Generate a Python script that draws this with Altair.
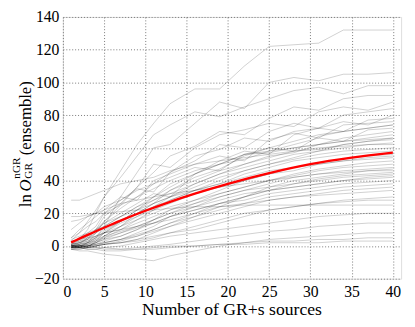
import altair as alt
import pandas as pd

# number of GR+s sources at which each ensemble run was sampled
n_sources = [1, 2, 3, 4, 5, 7, 9, 11, 13, 16, 19, 22, 25, 28, 31, 34, 37, 40]

# ln O^{nGR}_{GR} for individual catalogue realisations (grey curves)
runs = [
    [1, 4, 10, 20, 30, 46, 62, 75, 87, 96, 96, 110, 122, 123, 124, 132, 132, 132],
    [0, 0, 2, 5, 12, 30, 45, 60, 62, 75, 88, 84, 100, 103, 101, 105, 105, 106],
    [3, 8, 15, 22, 30, 42, 55, 68, 74, 82, 79, 85, 90, 95, 97, 93, 98, 98],
    [-1, -1, 2, 8, 15, 25, 36, 45, 55, 61, 70, 68, 78, 85, 83, 90, 92, 92],
    [1, 2, 4, 10, 18, 26, 36, 50, 48, 60, 68, 71, 75, 73, 82, 85, 83, 88],
    [0, 1, 5, 10, 15, 23, 30, 38, 45, 52, 62, 60, 70, 75, 72, 80, 82, 84],
    [2, 5, 8, 12, 20, 28, 35, 33, 45, 55, 59, 66, 64, 70, 72, 76, 74, 80],
    [-2, -2, -1, 3, 8, 15, 22, 30, 38, 44, 52, 58, 56, 68, 72, 70, 77, 78],
    [5, 10, 14, 18, 22, 30, 28, 40, 44, 50, 55, 52, 65, 69, 66, 74, 75, 76],
    [0, 0, 0, 2, 6, 12, 20, 26, 34, 42, 47, 55, 60, 58, 67, 70, 72, 74],
    [1, 3, 6, 9, 14, 20, 26, 32, 30, 44, 50, 53, 58, 62, 66, 64, 71, 72],
    [-1, 0, 1, 4, 8, 14, 18, 24, 30, 38, 44, 50, 55, 57, 62, 66, 68, 70],
    [10, 14, 18, 20, 24, 28, 34, 38, 42, 48, 46, 56, 57, 60, 62, 64, 66, 68],
    [0, 0, 2, 5, 9, 15, 22, 28, 34, 40, 46, 50, 54, 58, 59, 62, 64, 66],
    [2, 4, 6, 10, 12, 18, 24, 28, 32, 38, 44, 48, 52, 56, 58, 62, 64, 65],
    [-1, -1, 0, 2, 5, 10, 16, 22, 28, 34, 40, 46, 50, 54, 58, 60, 62, 63],
    [28, 28, 30, 32, 34, 38, 40, 42, 46, 50, 52, 54, 56, 58, 60, 61, 62, 62],
    [0, 1, 3, 6, 10, 15, 20, 26, 30, 36, 42, 46, 50, 53, 56, 58, 59, 60],
    [1, 2, 4, 8, 11, 16, 20, 24, 28, 34, 38, 44, 48, 52, 54, 56, 57, 58],
    [-2, -1, 0, 1, 3, 6, 10, 16, 22, 28, 34, 40, 44, 48, 51, 53, 55, 56],
    [0, 0, 1, 3, 6, 12, 18, 22, 26, 32, 36, 40, 44, 46, 50, 52, 54, 55],
    [4, 6, 8, 10, 14, 18, 22, 26, 30, 34, 38, 42, 46, 48, 50, 52, 53, 54],
    [0, -1, 0, 2, 4, 8, 12, 16, 20, 26, 32, 36, 40, 44, 47, 49, 51, 52],
    [1, 2, 3, 5, 8, 12, 16, 20, 24, 28, 32, 36, 40, 43, 46, 48, 49, 50],
    [-1, 0, 0, 1, 2, 4, 8, 12, 18, 24, 30, 34, 38, 42, 44, 46, 47, 48],
    [15, 16, 18, 20, 22, 26, 28, 30, 32, 34, 36, 38, 40, 42, 44, 45, 46, 47],
    [0, 0, 1, 2, 4, 6, 10, 14, 18, 22, 26, 30, 34, 38, 41, 43, 44, 45],
    [2, 3, 4, 6, 8, 10, 14, 18, 22, 26, 30, 34, 36, 38, 40, 42, 43, 44],
    [-1, -1, -1, 0, 1, 3, 6, 10, 14, 20, 26, 30, 34, 36, 38, 40, 42, 43],
    [0, 1, 2, 4, 6, 9, 12, 16, 20, 24, 28, 32, 34, 36, 38, 40, 41, 42],
    [1, 1, 2, 3, 5, 8, 11, 14, 18, 22, 26, 28, 32, 34, 36, 38, 39, 40],
    [-2, -2, -1, 0, 2, 4, 7, 10, 14, 18, 22, 26, 30, 32, 34, 36, 37, 38],
    [0, 0, 0, 1, 2, 4, 6, 9, 12, 16, 20, 24, 28, 30, 32, 34, 35, 36],
    [3, 4, 5, 6, 8, 10, 12, 14, 16, 20, 24, 26, 28, 30, 31, 32, 33, 34],
    [-1, 0, 0, 0, 1, 2, 4, 6, 8, 12, 16, 20, 22, 24, 26, 28, 29, 30],
    [0, -1, -1, 0, 1, 2, 3, 5, 8, 10, 14, 18, 22, 24, 26, 27, 28, 28],
    [18, 18, 19, 20, 20, 21, 22, 22, 23, 24, 24, 25, 25, 25, 25, 25, 25, 25],
    [-1, -1, -2, -2, -1, 0, 2, 4, 6, 8, 10, 12, 14, 16, 18, 19, 20, 20],
    [0, 0, -1, -1, -2, -2, -1, 0, 1, 3, 5, 7, 9, 10, 12, 13, 14, 14],
    [-2, -3, -3, -4, -5, -6, -8, -9, -6, -3, 0, 2, 4, 5, 6, 7, 8, 8],
    [-1, -1, -2, -2, -3, -3, -2, -2, -1, 0, 1, 2, 3, 3, 4, 4, 5, 5],
    [0, 0, -1, -1, -1, -2, -2, -1, 0, 0, 1, 1, 2, 2, 2, 3, 3, 3],
    [5, 8, 12, 15, 20, 25, 30, 35, 40, 46, 50, 56, 58, 60, 62, 64, 65, 66],
    [0, 2, 5, 8, 12, 18, 24, 30, 36, 44, 50, 56, 60, 64, 68, 70, 72, 74],
    [-1, -1, 0, 0, 1, 2, 4, 8, 12, 18, 24, 30, 36, 40, 42, 44, 46, 46],
]

# ensemble-averaged curve (red)
mean_n = [1, 2, 3, 4, 5, 7, 10, 13, 16, 20, 25, 30, 35, 40]
mean_lnO = [2.2, 4.5, 6.8, 9.0, 11.2, 15.5, 21.5, 27.0, 32.0, 38.0, 44.5, 50.0, 54.0, 57.0]

x_ticks = [0, 5, 10, 15, 20, 25, 30, 35, 40]
y_ticks = [-20, 0, 20, 40, 60, 80, 100, 120, 140]

rows = []
for i, r in enumerate(runs):
    for xv, yv in zip(n_sources, r):
        rows.append({"run": i, "n": xv, "lnO": yv})
df = pd.DataFrame(rows)
red = pd.DataFrame({"n": mean_n, "lnO": mean_lnO})

W, H = 345, 267
FONT = "Liberation Serif"

xs = alt.Scale(domain=[0, 41], nice=False, zero=False)
ys = alt.Scale(domain=[-20, 140], nice=False)
xaxis = alt.Axis(values=x_ticks, grid=True, gridDash=[1, 2], gridColor="#777",
                 gridWidth=1, title=None, labelFont=FONT, labelFontSize=16,
                 labelColor="black", domain=False, ticks=False, labelPadding=5,
                 format="d")
yaxis = alt.Axis(values=y_ticks, grid=True, gridDash=[1, 2], gridColor="#777",
                 gridWidth=1, title=None, labelFont=FONT, labelFontSize=16,
                 labelColor="black", domain=False, ticks=False, labelPadding=4,
                 format="d")

grey = alt.Chart(df).mark_line(color="black", opacity=0.19, strokeWidth=1).encode(
    x=alt.X("n:Q", scale=xs, axis=xaxis),
    y=alt.Y("lnO:Q", scale=ys, axis=yaxis),
    detail="run:N",
)
redline = alt.Chart(red).mark_line(color="#ff0000", strokeWidth=2.3,
                                   interpolate="monotone").encode(
    x=alt.X("n:Q", scale=xs, axis=xaxis),
    y=alt.Y("lnO:Q", scale=ys, axis=yaxis),
)


def label(txt, x, y, size, angle=270, style="normal", align="left"):
    return alt.Chart(pd.DataFrame({"t": [txt]})).mark_text(
        angle=angle, align=align, baseline="alphabetic", font=FONT,
        fontSize=size, fontStyle=style, color="black",
    ).encode(x=alt.value(x), y=alt.value(y), text="t:N")


ytitle = [
    label("ln", -33, 194, 17),
    label("O", -33, 178, 17, style="italic"),
    label("nGR", -44, 165, 11.5),
    label("GR", -32, 165, 11.5),
    label("(ensemble)", -33, 141, 17),
]
xtitle = label("Number of GR+s sources", W / 2, 304, 18, angle=0, align="center")

chart = alt.layer(grey, redline, *ytitle, xtitle).properties(
    width=W, height=H,
    autosize="none",
    padding={"left": 56, "top": 6, "right": 6, "bottom": 40},
).configure_view(stroke="black", strokeWidth=1).configure(background="white")

chart.save("out.html", embed_options={"renderer": "svg", "actions": False})
